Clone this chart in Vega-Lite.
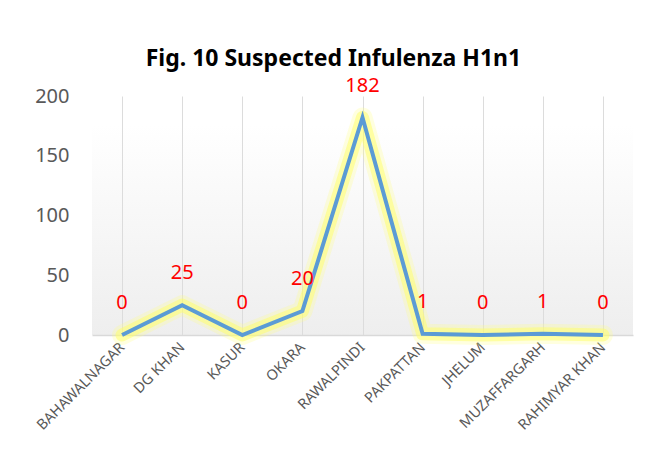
{
  "$schema": "https://vega.github.io/schema/vega-lite/v6.json",
  "width": 541,
  "height": 239,
  "padding": {"left": 33, "top": 47, "right": 30, "bottom": 10},
  "background": "white",
  "title": {
    "text": "Fig. 10 Suspected Infulenza H1n1",
    "font": "Noto Sans",
    "fontSize": 23,
    "fontWeight": "bold",
    "color": "#000000",
    "anchor": "middle",
    "frame": "bounds",
    "offset": 5
  },
  "config": {
    "view": {
      "stroke": null,
      "fill": {"gradient": "linear", "x1": 0, "y1": 0, "x2": 0, "y2": 1,
        "stops": [{"offset": 0, "color": "#ffffff"}, {"offset": 0.12, "color": "#ffffff"}, {"offset": 1, "color": "#eeeeee"}]}
    }
  },
  "data": {
    "values": [
      {"district": "BAHAWALNAGAR", "cases": 0},
      {"district": "DG KHAN", "cases": 25},
      {"district": "KASUR", "cases": 0},
      {"district": "OKARA", "cases": 20},
      {"district": "RAWALPINDI", "cases": 182},
      {"district": "PAKPATTAN", "cases": 1},
      {"district": "JHELUM", "cases": 0},
      {"district": "MUZAFFARGARH", "cases": 1},
      {"district": "RAHIMYAR KHAN", "cases": 0}
    ]
  },
  "encoding": {
    "x": {
      "field": "district", "type": "ordinal", "sort": null,
      "scale": {"type": "point", "padding": 0.5},
      "axis": {
        "title": null, "labelAngle": -45, "labelAlign": "right", "labelBaseline": "middle",
        "labelFont": "Noto Sans", "labelFontSize": 14.5, "labelColor": "#595959",
        "labelPadding": 10,
        "ticks": false, "domainColor": "#d9d9d9", "domainWidth": 1.5,
        "grid": true, "gridColor": "#dcdcdc", "gridWidth": 1
      }
    },
    "y": {
      "field": "cases", "type": "quantitative",
      "scale": {"domain": [0, 200]},
      "axis": {
        "title": null, "values": [0, 50, 100, 150, 200], "grid": false, "domain": false, "ticks": false,
        "labelFont": "Noto Sans", "labelFontSize": 20, "labelColor": "#595959", "labelPadding": 23
      }
    }
  },
  "layer": [
    {"mark": {"type": "line", "color": "#ffff80", "strokeWidth": 20, "opacity": 0.25, "strokeJoin": "round", "strokeCap": "round"}},
    {"mark": {"type": "line", "color": "#ffff66", "strokeWidth": 13, "opacity": 0.5, "strokeJoin": "round", "strokeCap": "round"}},
    {"mark": {"type": "line", "color": "#5B9BD5", "strokeWidth": 4, "strokeJoin": "miter"}},
    {
      "mark": {"type": "text", "color": "#ff0000", "font": "Noto Sans", "fontSize": 20, "dy": -32, "baseline": "middle"},
      "encoding": {"text": {"field": "cases", "type": "quantitative"}}
    }
  ]
}
